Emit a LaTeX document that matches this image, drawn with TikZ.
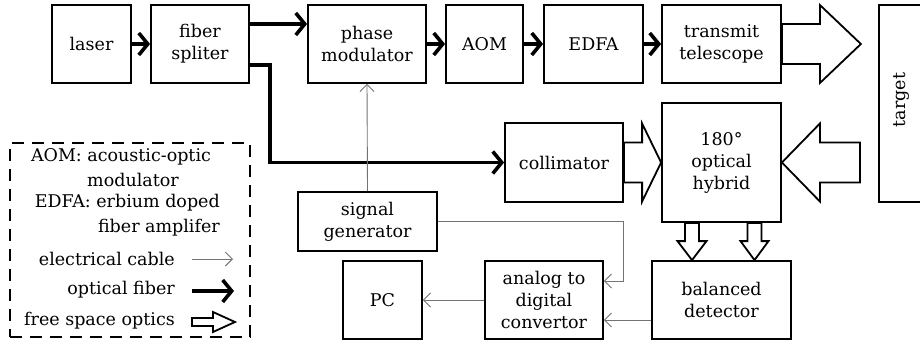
\documentclass[tikz,border=0pt]{standalone}
\usepackage{fontspec}
\setmainfont{DejaVu Serif}
\usetikzlibrary{arrows.meta,calc}
\tikzset{
  blk/.style={draw, line width=1.8pt, inner sep=0pt, align=center, font=\fontsize{17.5}{22}\selectfont},
  fiber/.style={line width=3.6pt, -{Straight Barb[length=9pt,width=22pt]}},
  cable/.style={line width=0.9pt, draw=black!55, -{Straight Barb[length=7pt,width=14pt]}},
  hollowline/.style={line width=1.8pt, line join=miter, fill=white},
  lgtext/.style={font=\fontsize{17.5}{22}\selectfont, inner sep=0pt},
}
% #1 start, #2 tip, #3 shaft half width, #4 head half width, #5 head length
\newcommand\hollowarrow[5]{%
  \coordinate (hb) at ($(#2)!#5!(#1)$);
  \draw[hollowline] ($(#1)!#3!90:(#2)$) -- ($(hb)!#3!-90:(#1)$) -- ($(hb)!#4!-90:(#1)$) -- (#2)
     -- ($(hb)!#4!90:(#1)$) -- ($(hb)!#3!90:(#1)$) -- ($(#1)!#3!-90:(#2)$) -- cycle;
}
\begin{document}
\begin{tikzpicture}[x=1pt,y=-1pt]
\useasboundingbox (0,0) rectangle (920,346);
\begin{scope}
\clip (0,0) rectangle (920,346);
% blocks
\node[blk, minimum width=79pt, minimum height=78pt] (laser) at (91.5,44) {laser};
\node[blk, minimum width=98pt, minimum height=78pt] (fs) at (200,44) {fiber\\spliter};
\node[blk, minimum width=118pt, minimum height=78pt] (pm) at (367,44) {phase\\modulator};
\node[blk, minimum width=77pt, minimum height=78pt] (aom) at (484.5,44) {AOM};
\node[blk, minimum width=99pt, minimum height=78pt] (edfa) at (593.5,44) {EDFA};
\node[blk, minimum width=119pt, minimum height=78pt] (tele) at (721.5,44) {transmit\\telescope};
\node[blk, minimum width=48pt, minimum height=197pt] (target) at (903,103.5) {};
\node[font=\fontsize{17.5}{22}\selectfont, rotate=90] (targettext) at (901,100) {target};
\node[blk, minimum width=118pt, minimum height=79pt] (coll) at (564,162.5) {collimator};
\node[blk, minimum width=119pt, minimum height=119pt] (hyb) at (721.5,162.5) {180\textdegree\\optical\\hybrid};
\node[blk, minimum width=139pt, minimum height=59pt] (sg) at (367.5,221.5) {signal\\generator};
\node[blk, minimum width=79pt, minimum height=78pt] (pc) at (382.5,300) {PC};
\node[blk, minimum width=118pt, minimum height=78pt] (adc) at (544,300) {analog to\\digital\\convertor};
\node[blk, minimum width=139pt, minimum height=78pt] (bd) at (721.5,300) {balanced\\detector};
\end{scope}

% optical fibers
\draw[fiber] (laser) -- (fs);
\draw[fiber] ($(fs.east)+(0,-20)$) -- ($(pm.west)+(0,-20)$);
\coordinate (fsturn) at ($(fs.east)+(20,21)$);
\draw[fiber] ($(fs.east)+(0,21)$) -- (fsturn) |- (coll.west);
\draw[fiber] (pm) -- (aom);
\draw[fiber] (aom) -- (edfa);
\draw[fiber] (edfa) -- (tele);

% electrical cables
\draw[cable] (sg.north) -- (pm.south);
\coordinate (sgturn) at ($(coll.east)+(0,60)$);
\draw[cable] (sg.east) -| (sgturn) |- ($(adc.east)+(0,-19)$);
\draw[cable] ($(bd.west)+(0,20)$) -- ($(adc.east)+(0,20)$);
\draw[cable] (adc.west) -- (pc.east);

% free space optics
\coordinate (teleTip) at ($(tele.east)+(79,0)$);
\hollowarrow{tele.east}{teleTip}{20pt}{39pt}{41pt}
\hollowarrow{coll.east}{hyb.west}{20pt}{39pt}{19pt}
\coordinate (retStart) at ($(hyb.east)+(78,0)$);
\hollowarrow{retStart}{hyb.east}{20pt}{39pt}{38pt}
\coordinate (hybA) at ($(hyb.south)+(-29.5,0)$);
\coordinate (bdA) at ($(bd.north)+(-29.5,0)$);
\hollowarrow{hybA}{bdA}{7pt}{14.5pt}{19pt}
\coordinate (hybB) at ($(hyb.south)+(33,0)$);
\coordinate (bdB) at ($(bd.north)+(33,0)$);
\hollowarrow{hybB}{bdB}{7pt}{14pt}{19pt}

% legend
\node[draw, dashed, dash pattern=on 12pt off 8pt, line width=1.8pt, minimum width=240pt, minimum height=194pt, inner sep=0pt] (legend) at (130,240) {};
\node[lgtext] (l1) at (121,157) {AOM: acoustic-optic};
\node[lgtext] (l2) at (133,180) {modulator};
\node[lgtext, anchor=east] (l3) at (220,203) {EDFA: erbium doped};
\node[lgtext, anchor=east] (l4) at (220,228) {fiber amplifer};
\node[lgtext, anchor=east] (l5) at (175,259) {electrical cable};
\node[lgtext, anchor=east] (l6) at (175,290) {optical fiber};
\node[lgtext, anchor=east] (l7) at (175,321) {free space optics};
\coordinate (c1s) at (192,259); \coordinate (c1e) at (233,259);
\draw[cable] (c1s) -- (c1e);
\coordinate (c2s) at (192,291); \coordinate (c2e) at (234,291);
\draw[fiber] (c2s) -- (c2e);
\coordinate (c3s) at (192,322); \coordinate (c3e) at (235,322);
\hollowarrow{c3s}{c3e}{4pt}{10pt}{22pt}
\end{tikzpicture}
\end{document}
